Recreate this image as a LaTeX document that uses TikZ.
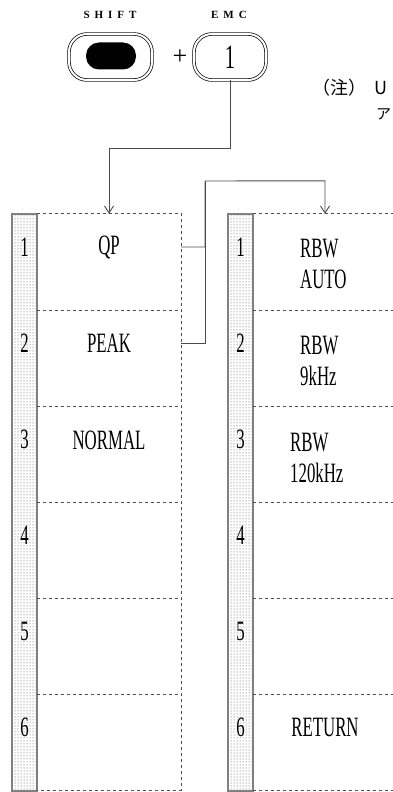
\documentclass[tikz,border=0pt]{standalone}
\usepackage{fontspec}
\setmainfont{Liberation Serif}
\newfontfamily\nar[FakeStretch=0.6]{Liberation Serif}
\newfontfamily\lab[LetterSpace=45]{Liberation Serif}
\newfontfamily\cjk{Noto Sans CJK JP}
\usetikzlibrary{patterns,arrows.meta}
\begin{document}
\begin{tikzpicture}[x=1pt,y=-1pt,
  cell/.style={minimum width=144pt,minimum height=96pt,inner sep=0pt},
  txt/.style={font=\nar\fontsize{28}{31}\selectfont,inner sep=0pt},
  num/.style={font=\nar\fontsize{28}{28}\selectfont,inner sep=0pt},
  grid/.style={draw=black!70,dash pattern=on 3pt off 3pt,line width=0.8pt},
  strip/.style={pattern=dots,pattern color=black!70,draw=black!50,line width=1.3pt,
    minimum width=25pt,minimum height=577pt,inner sep=0pt},
  key/.style={draw,double,double distance=2pt,line width=0.7pt,rounded corners=18pt,
    minimum height=46pt,inner sep=0pt},
  keylabel/.style={font=\lab\bfseries\fontsize{11}{11}\selectfont,inner sep=0pt},
  conn/.style={draw=black!70,line width=0.9pt},
  arr/.style={-{Straight Barb[length=7pt,width=9pt]}},
  notetxt/.style={anchor=west,inner sep=0pt,font=\cjk\fontsize{18}{18}\selectfont}
]
\useasboundingbox (0,0) rectangle (392,792);

% keys
\node[keylabel] (lshift) at (110,15) {SHIFT};
\node[keylabel] (lemc) at (229,15) {EMC};
\node[key,minimum width=83pt] (shiftkey) at (110.5,57) {};
\node[fill=black,rounded corners=13pt,minimum width=50pt,minimum height=27pt,inner sep=0pt] (shiftcap) at (111,56) {};
\node[font=\fontsize{26}{26}\selectfont,inner sep=0pt] (plus) at (180,57) {+};
\node[key,minimum width=72pt,font=\nar\fontsize{34}{34}\selectfont] (emckey) at (230,57) {1};

% note
\node[notetxt] (note1) at (312,88) {（注）\hspace{8pt}U};
\node[notetxt,font=\cjk\fontsize{15}{15}\selectfont] (note2) at (376,114) {ア};

% strips
\node[strip] (stripL) at (24.5,502.5) {};
\node[strip] (stripR) at (240.5,502.5) {};

% cells
\foreach \i in {1,...,6}{
  \node[cell] (lc\i) at (109,{214+96*(\i-1)+48}) {};
  \node[cell] (rc\i) at (325,{214+96*(\i-1)+48}) {};
  \node[num] (ln\i) at (24.5,{247+96*(\i-1)}) {\i};
  \node[num] (rn\i) at (240.5,{247+96*(\i-1)}) {\i};
}
\draw[grid] (lc1.north west) -- (lc1.north east) -- (lc6.south east) -- (lc6.south west);
\draw[grid] (rc1.north west) -- (rc1.north east);
\draw[grid] (rc6.south west) -- (rc6.south east);
\foreach \i in {1,...,5}{
  \draw[grid] (lc\i.south west) -- (lc\i.south east);
  \draw[grid] (rc\i.south west) -- (rc\i.south east);
}

% texts
\node[txt] (tQP) at (109,247) {QP};
\node[txt] (tPEAK) at (109,343) {PEAK};
\node[txt] (tNORMAL) at (109,440) {NORMAL};
\node[txt,align=left,anchor=west] (tr1) at (300,264) {RBW\\AUTO};
\node[txt,align=left,anchor=west] (tr2) at (300,361) {RBW\\9kHz};
\node[txt,align=left,anchor=west] (tr3) at (290,458) {RBW\\120kHz};
\node[txt] (tRET) at (325,727) {RETURN};

% connectors
\path (lc1.north) ++(0,-65) coordinate (b1);
\draw[conn,arr] (emckey.south) |- (b1) -- (lc1.north);
\path (rc1.north) ++(0,-33) coordinate (b2);
\coordinate (jtop) at (205,181);
\draw[conn,arr] (lc1.east |- tQP) -| (jtop) -- (b2) -- (rc1.north);
\draw[conn] (lc2.east |- tPEAK) -| (jtop);
\end{tikzpicture}
\end{document}
